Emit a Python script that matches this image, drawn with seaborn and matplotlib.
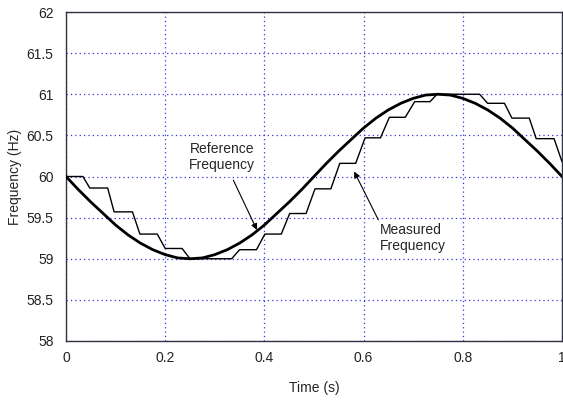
import matplotlib
matplotlib.use("Agg")
import matplotlib.pyplot as plt
import seaborn as sns
import pandas as pd

# Reference frequency, read every 0.025 s
ref_time = [i * 0.025 for i in range(41)]
ref_freq = [60.00, 59.84, 59.69, 59.55, 59.41, 59.29, 59.19, 59.11, 59.05, 59.01,
            59.00, 59.01, 59.05, 59.11, 59.19, 59.29, 59.41, 59.55, 59.69, 59.84,
            60.00, 60.16, 60.31, 60.45, 60.59, 60.71, 60.81, 60.89, 60.95, 60.99,
            61.00, 60.99, 60.95, 60.89, 60.81, 60.71, 60.59, 60.45, 60.31, 60.16,
            60.00]

# Measured (staircase) frequency vertices
meas_time = [0.0, 0.034, 0.048, 0.084, 0.097, 0.134, 0.149, 0.184, 0.200, 0.234,
             0.250, 0.334, 0.350, 0.384, 0.401, 0.434, 0.451, 0.484, 0.502, 0.534,
             0.552, 0.584, 0.603, 0.634, 0.652, 0.684, 0.703, 0.734, 0.748, 0.834,
             0.850, 0.884, 0.899, 0.934, 0.948, 0.984, 1.000]
meas_freq = [60.00, 60.00, 59.86, 59.86, 59.57, 59.57, 59.30, 59.30, 59.125, 59.125,
             59.00, 59.00, 59.11, 59.11, 59.30, 59.30, 59.55, 59.55, 59.85, 59.85,
             60.16, 60.16, 60.47, 60.47, 60.72, 60.72, 60.91, 60.91, 61.00, 61.00,
             60.89, 60.89, 60.71, 60.71, 60.46, 60.46, 60.18]

x_ticks = [0, 0.2, 0.4, 0.6, 0.8, 1]
x_tick_labels = ["0", "0.2", "0.4", "0.6", "0.8", "1"]
y_ticks = [58, 58.5, 59, 59.5, 60, 60.5, 61, 61.5, 62]
y_tick_labels = ["58", "58.5", "59", "59.5", "60", "60.5", "61", "61.5", "62"]

sns.set_style("white")
plt.rcParams['font.family'] = ['Liberation Sans', 'DejaVu Sans']

fig = plt.figure(figsize=(5.63, 4.00), dpi=100)
ax = fig.add_axes([66 / 563, 1 - 341 / 400, 496 / 563, 329 / 400])

ref_df = pd.DataFrame({"t": ref_time, "f": ref_freq})
meas_df = pd.DataFrame({"t": meas_time, "f": meas_freq})

sns.lineplot(data=meas_df, x="t", y="f", ax=ax, sort=False, estimator=None,
             color="black", linewidth=1.0, zorder=3)
sns.lineplot(data=ref_df, x="t", y="f", ax=ax, sort=False, estimator=None,
             color="black", linewidth=2.0, zorder=4)

ax.set_xlim(0, 1)
ax.set_ylim(58, 62)
ax.set_xticks(x_ticks)
ax.set_xticklabels(x_tick_labels)
ax.set_yticks(y_ticks)
ax.set_yticklabels(y_tick_labels)
ax.tick_params(axis="both", length=0, labelsize=10, colors="#222222")
ax.tick_params(axis="x", pad=7)
ax.tick_params(axis="y", pad=9)
ax.grid(True, color="#3333ee", linestyle=(0, (1, 2.5)), linewidth=0.9)
for s in ax.spines.values():
    s.set_color("#333340")
    s.set_linewidth(1.0)

ax.set_xlabel("Time (s)", fontsize=10, labelpad=12)
ax.set_ylabel("Frequency (Hz)", fontsize=10, labelpad=3)

ax.annotate("Reference\nFrequency", xy=(0.385, 59.35), xytext=(0.315, 60.24),
            ha="center", va="center", fontsize=10,
            arrowprops=dict(arrowstyle="-|>", color="black", lw=0.8,
                            shrinkA=4, shrinkB=0, mutation_scale=9))
ax.annotate("Measured\nFrequency", xy=(0.581, 60.06), xytext=(0.633, 59.25),
            ha="left", va="center", fontsize=10,
            arrowprops=dict(arrowstyle="-|>", color="black", lw=0.8,
                            shrinkA=0, shrinkB=0, mutation_scale=9,
                            relpos=(0.0, 1.0)))

ax.set_facecolor("white")
fig.patch.set_facecolor("white")
fig.savefig("out.png", dpi=100)
